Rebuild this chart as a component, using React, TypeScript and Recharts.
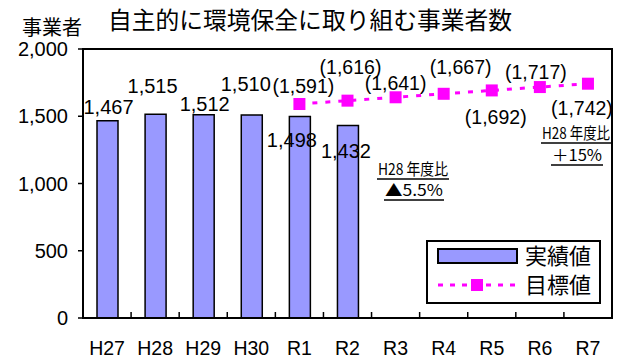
import { ComposedChart, Bar, Line, XAxis, YAxis, LabelList, Legend } from "recharts";

// 年度と実績値・目標値
const years = ["H27", "H28", "H29", "H30", "R1", "R2", "R3", "R4", "R5", "R6", "R7"];
const actual = [1467, 1515, 1512, 1510, 1498, 1432, null, null, null, null, null];
const target = [null, null, null, null, 1591, 1616, 1641, 1667, 1692, 1717, 1742];
const yTicks = [0, 500, 1000, 1500, 2000];

const data = years.map((year, i) => ({ year, actual: actual[i], target: target[i] }));

// chart geometry
const W = 619;
const H = 360;
const PLOT_LEFT = 83;
const PLOT_TOP = 49;
const PLOT_RIGHT = 612;
const PLOT_BOTTOM = 318;
const HALF_BAND = (PLOT_RIGHT - PLOT_LEFT) / years.length / 2;

// ラベルの位置調整 (バー上端 / マーカー中心からのずれ)
const actualLabelShift = [
  [1, -14], [-3, -28], [1, -11], [-6, -31], [-8, 23], [-2, 25],
];
const targetLabelShift = [
  [0, 0], [0, 0], [0, 0], [0, 0],
  [4, -18], [3, -34], [0, -14], [17, -27], [4, 27], [-4, -15], [-6, 24],
];

const NUM_FONT = "'Liberation Sans', Arial, sans-serif";
const JP_FONT = "'Noto Sans CJK JP', sans-serif";
const MAGENTA = "#FF00FF";
const BAR_FILL = "#9999FF";

const fmt = (v: number) => v.toLocaleString("en-US");

function ActualLabel(props: any) {
  const { x, y, width, value, index } = props;
  if (value == null) return null;
  const [dx, dy] = actualLabelShift[index] || [0, 0];
  return (
    <text x={x + width / 2 + dx} y={y + dy} dy="0.36em" textAnchor="middle"
      fontSize={20} fontFamily={NUM_FONT} fill="#000">
      {fmt(value)}
    </text>
  );
}

function TargetLabel(props: any) {
  const { x, y, value, index } = props;
  if (value == null) return null;
  const [dx, dy] = targetLabelShift[index] || [0, 0];
  return (
    <text x={x + dx} y={y + dy} dy="0.36em" textAnchor="middle"
      fontSize={19.5} fontFamily={NUM_FONT} fill="#000">
      ({fmt(value)})
    </text>
  );
}

function SquareDot(props: any) {
  const { cx, cy, value } = props;
  if (value == null || cx == null) return null;
  return <rect x={cx - 6} y={cy - 6} width={12} height={12} fill={MAGENTA} />;
}

function YearTick(props: any) {
  const { x, y, payload, index } = props;
  return (
    <g>
      {index < years.length - 1 && (
        <line x1={x + HALF_BAND} x2={x + HALF_BAND} y1={y} y2={y - 6} stroke="#000" strokeWidth={1.5} />
      )}
      <text x={x} y={y + 37} textAnchor="middle" fontSize={19.5} fontFamily={NUM_FONT} fill="#000">
        {payload.value}
      </text>
    </g>
  );
}

function LegendBox() {
  return (
    <div style={{
      position: "relative", width: 175, height: 64, boxSizing: "border-box",
      border: "2px solid #000", background: "#fff", fontFamily: JP_FONT,
    }}>
      <svg width={175} height={64} style={{ position: "absolute", left: -2, top: -2, overflow: "visible" }}>
        <rect x={12} y={9} width={79} height={14} fill={BAR_FILL} stroke="#000" strokeWidth={2} />
        <text x={99} y={24} fontSize={22} fontFamily={JP_FONT} fill="#000">実績値</text>
        <line x1={12} x2={91} y1={45} y2={45} stroke={MAGENTA} strokeWidth={3} strokeDasharray="5 7" />
        <rect x={45} y={39} width={12} height={12} fill={MAGENTA} />
        <text x={99} y={53} fontSize={22} fontFamily={JP_FONT} fill="#000">目標値</text>
      </svg>
    </div>
  );
}

export default function App() {
  return (
    <div style={{ position: "absolute", left: 0, top: 0, width: W, height: H, background: "#fff" }}>
      <ComposedChart width={W} height={H} data={data}
        margin={{ top: PLOT_TOP, right: W - PLOT_RIGHT, bottom: 0, left: 0 }}>
        <XAxis dataKey="year" height={H - PLOT_BOTTOM} tickLine={false} tickSize={0} tickMargin={0}
          axisLine={{ stroke: "#000", strokeWidth: 2 }} tick={<YearTick />} interval={0} />
        <YAxis width={PLOT_LEFT} domain={[0, 2000]} ticks={yTicks} tickSize={5} tickMargin={10}
          axisLine={{ stroke: "#000", strokeWidth: 2 }} tickLine={{ stroke: "#000", strokeWidth: 1.5 }}
          tickFormatter={fmt} tick={{ fontSize: 20, fontFamily: NUM_FONT, fill: "#000" }} />
        <Legend layout="horizontal" verticalAlign="middle" align="center"
          wrapperStyle={{ position: "absolute", left: 426, top: 240, width: 175, height: 64 }}
          content={() => <LegendBox />} />
        <Bar dataKey="actual" barSize={21} fill={BAR_FILL} stroke="#000" strokeWidth={1.5}
          isAnimationActive={false}>
          <LabelList dataKey="actual" content={<ActualLabel />} />
        </Bar>
        <Line dataKey="target" stroke={MAGENTA} strokeWidth={3} strokeDasharray="5 8"
          dot={<SquareDot />} activeDot={false} isAnimationActive={false}>
          <LabelList dataKey="target" content={<TargetLabel />} />
        </Line>
      </ComposedChart>

      {/* 枠線・タイトル・注記 */}
      <svg width={W} height={H} style={{ position: "absolute", left: 0, top: 0, pointerEvents: "none" }}>
        <rect x={PLOT_LEFT} y={PLOT_TOP} width={PLOT_RIGHT - PLOT_LEFT} height={PLOT_BOTTOM - PLOT_TOP}
          fill="none" stroke="#000" strokeWidth={2} />
        <text x={22} y={35} fontSize={20} fontFamily={JP_FONT} fill="#000">事業者</text>
        <text x={108} y={29} fontSize={23.5} fontFamily={JP_FONT} fill="#000"
          textLength={404} lengthAdjust="spacingAndGlyphs">自主的に環境保全に取り組む事業者数</text>

        <text x={378} y={175} fontSize={16} fontFamily={JP_FONT} fill="#000"
          textLength={70} lengthAdjust="spacingAndGlyphs">H28 年度比</text>
        <line x1={377} x2={449} y1={179} y2={179} stroke="#000" strokeWidth={1.5} />
        <text x={385} y={196} fontSize={16} fontFamily={JP_FONT} fill="#000"
          textLength={58} lengthAdjust="spacingAndGlyphs">▲5.5%</text>
        <line x1={384} x2={444} y1={200} y2={200} stroke="#000" strokeWidth={1.5} />

        <text x={542} y={139} fontSize={16} fontFamily={JP_FONT} fill="#000"
          textLength={68} lengthAdjust="spacingAndGlyphs">H28 年度比</text>
        <line x1={541} x2={611} y1={143} y2={143} stroke="#000" strokeWidth={1.5} />
        <text x={552} y={161} fontSize={16} fontFamily={JP_FONT} fill="#000"
          textLength={50} lengthAdjust="spacingAndGlyphs">＋15%</text>
        <line x1={551} x2={603} y1={165} y2={165} stroke="#000" strokeWidth={1.5} />
      </svg>
    </div>
  );
}
